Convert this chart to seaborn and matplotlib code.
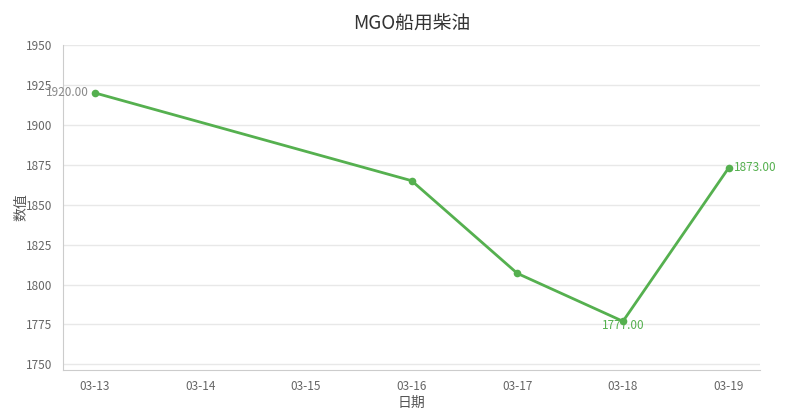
import pandas as pd
import seaborn as sns
import matplotlib.pyplot as plt

# all dates on the axis, and the dates that actually have a price
all_dates = ["03-13", "03-14", "03-15", "03-16", "03-17", "03-18", "03-19"]
dates = ["03-13", "03-16", "03-17", "03-18", "03-19"]
values = [1920, 1865, 1807, 1777, 1873]

df = pd.DataFrame({"date": dates, "value": values})
df["pos"] = df["date"].map(all_dates.index)

sns.set_style("white")
plt.rcParams['font.family'] = ['Noto Sans CJK SC', 'DejaVu Sans']

GREEN = "#55b04f"
GRAY = "#666666"

fig = plt.figure(figsize=(7.92, 4.2), dpi=100)
ax = fig.add_axes([0.0795, 0.119, 0.8805, 0.774])

sns.lineplot(data=df, x="pos", y="value", ax=ax, color=GREEN, linewidth=2,
             marker="o", markersize=5.5, markeredgewidth=0)

# value labels on first, min and last point
first = df.iloc[0]
ax.annotate(f"{first['value']:.2f}", (first["pos"], first["value"]), xytext=(-4, 0),
            textcoords="offset points", ha="right", va="center", fontsize=8.5, color="#888888")
low = df.loc[df["value"].idxmin()]
ax.annotate(f"{low['value']:.2f}", (low["pos"], low["value"]), xytext=(0, -3),
            textcoords="offset points", ha="center", va="center", fontsize=8.5, color=GREEN)
last = df.iloc[-1]
ax.annotate(f"{last['value']:.2f}", (last["pos"], last["value"]), xytext=(4, 0),
            textcoords="offset points", ha="left", va="center", fontsize=8.5, color=GREEN)

ax.set_xlim(-0.3, 6.3)
ax.set_ylim(1746.5, 1950)
ax.set_xticks(range(len(all_dates)))
ax.set_xticklabels(all_dates)
ax.set_yticks(range(1750, 1951, 25))

ax.grid(axis="y", color="#e8e8e8", linewidth=1)
ax.set_axisbelow(True)
for s in ["top", "right"]:
    ax.spines[s].set_visible(False)
for s in ["left", "bottom"]:
    ax.spines[s].set_color("#cccccc")
ax.tick_params(axis="both", direction="out", length=4, width=1, color="#999999",
               labelsize=8.5, labelcolor=GRAY)

ax.set_xlabel("日期", fontsize=10, color="#555555", labelpad=2)
ax.set_ylabel("数值", fontsize=10, color="#555555")
ax.yaxis.set_label_coords(-0.05, 0.5)
ax.set_title("MGO船用柴油", fontsize=13.5, color="#333333", pad=11)

plt.savefig("out.png", dpi=100)
